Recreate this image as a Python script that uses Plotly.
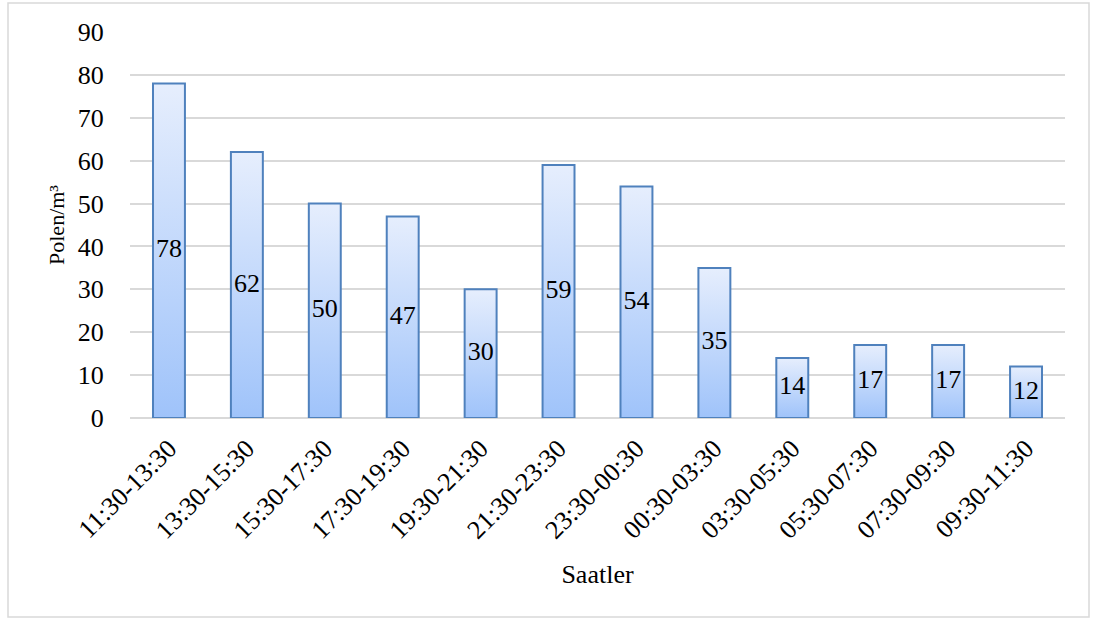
import plotly.graph_objects as go

categories = ["11:30-13:30", "13:30-15:30", "15:30-17:30", "17:30-19:30", "19:30-21:30",
              "21:30-23:30", "23:30-00:30", "00:30-03:30", "03:30-05:30", "05:30-07:30",
              "07:30-09:30", "09:30-11:30"]
values = [78, 62, 50, 47, 30, 59, 54, 35, 14, 17, 17, 12]
y_ticks = [0, 10, 20, 30, 40, 50, 60, 70, 80, 90]

FONT = "Liberation Serif, Times New Roman, serif"
half_w = 0.205
bottom_col = "#9fc3fa"
top_col = "#e6eefd"
edge_col = "#4f81bd"

fig = go.Figure()
xs = list(range(len(categories)))
for i, v in zip(xs, values):
    fig.add_trace(go.Scatter(
        x=[i - half_w, i - half_w, i + half_w, i + half_w, i - half_w],
        y=[0, v, v, 0, 0],
        mode="lines", fill="toself",
        fillgradient=dict(type="vertical", colorscale=[[0, bottom_col], [1, top_col]],
                          start=0, stop=v),
        line=dict(color=edge_col, width=2),
        hoverinfo="skip", showlegend=False,
    ))

fig.add_trace(go.Scatter(
    x=xs, y=[v / 2 for v in values], mode="text",
    text=[str(v) for v in values],
    textfont=dict(family=FONT, size=26, color="black"),
    showlegend=False, hoverinfo="skip",
))

W, H = 1096, 619
L, R, T, B = 130, 31, 32, 201
pw, ph = W - L - R, H - T - B

fig.add_shape(type="rect", xref="paper", yref="paper",
              x0=(8 - L) / pw, x1=(1089 - L) / pw,
              y0=(H - B - 617) / ph, y1=(H - B - 3) / ph,
              line=dict(color="#d9d9d9", width=1.5), layer="below")

fig.update_layout(
    width=W, height=H,
    margin=dict(l=L, r=R, t=T, b=B),
    paper_bgcolor="white", plot_bgcolor="white",
    font=dict(family=FONT, size=26, color="black"),
    xaxis=dict(range=[-0.5, len(categories) - 0.5], tickvals=xs, ticktext=categories,
               tickangle=-45, showgrid=False, zeroline=False, showline=False,
               ticks="outside", ticklen=4, tickcolor="rgba(0,0,0,0)",
               tickfont=dict(size=26),
               title=dict(text="Saatler", font=dict(size=26), standoff=21)),
    yaxis=dict(range=[0, 90], tickvals=y_ticks, showgrid=True, gridcolor="#d9d9d9",
               gridwidth=1.5, zeroline=True, zerolinecolor="#d9d9d9", zerolinewidth=1.5,
               showline=False, ticks="outside", ticklen=20, tickcolor="rgba(0,0,0,0)",
               tickfont=dict(size=26),
               title=dict(text="Polen/m³", font=dict(size=22), standoff=7)),
)

fig.write_html("out.html", config={"displayModeBar": False},
               post_script="document.body.style.margin='0';")
